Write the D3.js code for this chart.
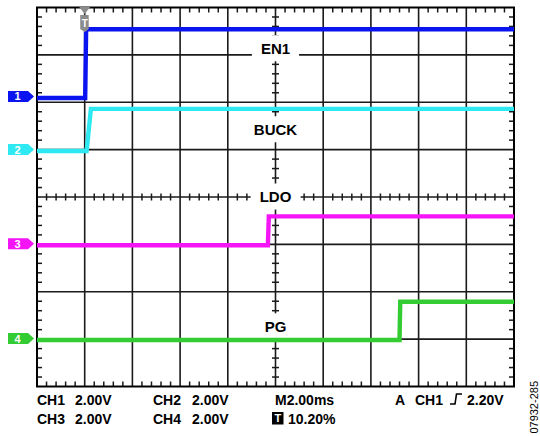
<!DOCTYPE html>
<html><head><meta charset="utf-8">
<script src="https://cdn.jsdelivr.net/npm/d3@7"></script>
<style>html,body{margin:0;padding:0;background:#fff;}svg{display:block;font-family:"Liberation Sans",Arial,sans-serif;}</style>
</head><body>
<script>
// ---- data ----
const channels = ["CH1", "CH2", "CH3", "CH4"];
const channelLabels = ["EN1", "BUCK", "LDO", "PG"];
const channelColors = ["#0a14f0", "#2ee8f2", "#f514f5", "#33cc33"];
const channelOffsetDiv = [1.91, 3.03, 5.02, 7.02]; // ground marker position (div from top)
const labelCenterDiv = [0.86, 2.57, 3.99, 6.73];
const ch1Time = [-2, 0.02, 0.06, 18];
const ch1Volt = [0, 0, 2.9, 2.9];
const ch2Time = [-2, 0.08, 0.26, 18];
const ch2Volt = [0, 0, 1.78, 1.78];
const ch3Time = [-2, 7.68, 7.72, 18];
const ch3Volt = [0, 0, 1.22, 1.22];
const ch4Time = [-2, 13.2, 13.23, 18];
const ch4Volt = [0, 0, 1.62, 1.62];
const timeDomain = [-2, 18];        // ms, 2 ms/div
const voltsPerDiv = 2;
const footRow1 = [["CH1", 37], ["2.00V", 75], ["CH2", 153], ["2.00V", 192], ["M2.00ms", 275], ["A", 395], ["CH1", 415], ["2.20V", 467]];
const footRow2 = [["CH3", 37], ["2.00V", 75], ["CH4", 153], ["2.00V", 192], ["10.20%", 288]];
const figId = "07932-285";

const W = 540, H = 436;
const L = 37, R = 514, T = 7.5, B = 386.5;
const svg = d3.select("body").append("svg").attr("width", W).attr("height", H);

const x = d3.scaleLinear().domain(timeDomain).range([L, R]);
const yDiv = d3.scaleLinear().domain([0, 8]).range([T, B]);
const xDiv = d3.scaleLinear().domain([0, 10]).range([L, R]);

// grid
const g = svg.append("g");
g.selectAll("line.v").data(d3.range(1, 10)).join("line")
  .attr("x1", d => xDiv(d)).attr("x2", d => xDiv(d)).attr("y1", T).attr("y2", B)
  .attr("stroke", "#1a1a1a").attr("stroke-width", 1.6);
g.selectAll("line.h").data(d3.range(1, 8)).join("line")
  .attr("y1", d => yDiv(d)).attr("y2", d => yDiv(d)).attr("x1", L).attr("x2", R)
  .attr("stroke", "#1a1a1a").attr("stroke-width", 1.6);

// minor ticks
const minorX = d3.range(1, 50).filter(i => i % 5 !== 0).map(i => i / 5);
const minorY = d3.range(1, 40).filter(i => i % 5 !== 0).map(i => i / 5);
const tk = svg.append("g").attr("stroke", "#1a1a1a").attr("stroke-width", 1.5);
minorX.forEach(d => {
  tk.append("line").attr("x1", xDiv(d)).attr("x2", xDiv(d)).attr("y1", T).attr("y2", T + 5);
  tk.append("line").attr("x1", xDiv(d)).attr("x2", xDiv(d)).attr("y1", B).attr("y2", B - 5);
  tk.append("line").attr("x1", xDiv(d)).attr("x2", xDiv(d)).attr("y1", yDiv(4) - 3.5).attr("y2", yDiv(4) + 3.5);
});
minorY.forEach(d => {
  tk.append("line").attr("y1", yDiv(d)).attr("y2", yDiv(d)).attr("x1", L).attr("x2", L + 5);
  tk.append("line").attr("y1", yDiv(d)).attr("y2", yDiv(d)).attr("x1", R).attr("x2", R - 5);
  tk.append("line").attr("y1", yDiv(d)).attr("y2", yDiv(d)).attr("x1", xDiv(5) - 3.5).attr("x2", xDiv(5) + 3.5);
});

// border
svg.append("rect").attr("x", L).attr("y", T).attr("width", R - L).attr("height", B - T)
  .attr("fill", "none").attr("stroke", "#000").attr("stroke-width", 2);

// labels with white boxes
channelLabels.forEach((lab, i) => {
  const cy = yDiv(labelCenterDiv[i]);
  const t = svg.append("text").attr("x", xDiv(5)).attr("y", cy).attr("dy", "0.36em")
    .attr("text-anchor", "middle").attr("font-size", 15).attr("font-weight", "bold").text(lab);
  const bb = t.node().getBBox();
  svg.insert("rect", "text").attr("x", bb.x - 9).attr("y", cy - 13).attr("width", bb.width + 18)
    .attr("height", 26).attr("fill", "#fff");
});

// traces
const traces = [[ch1Time, ch1Volt], [ch2Time, ch2Volt], [ch3Time, ch3Volt], [ch4Time, ch4Volt]];
traces.forEach(([ts, vs], i) => {
  const pts = ts.map((t, k) => [t, vs[k]]);
  const line = d3.line().x(d => x(d[0])).y(d => yDiv(channelOffsetDiv[i] - d[1] / voltsPerDiv));
  svg.append("path").datum(pts).attr("d", line).attr("fill", "none")
    .attr("stroke", channelColors[i]).attr("stroke-width", 4.4).attr("stroke-linejoin", "miter");
});

// channel markers
channels.forEach((c, i) => {
  const cy = yDiv(channelOffsetDiv[i]) - 1.5;
  svg.append("path").attr("d", `M8,${cy - 5.5}H28L34,${cy}L28,${cy + 5.5}H8Z`).attr("fill", channelColors[i]);
  svg.append("text").attr("x", 17.5).attr("y", cy).attr("dy", "0.36em").attr("text-anchor", "middle")
    .attr("font-size", 11).attr("font-weight", "bold").attr("fill", "#fff").text(String(i + 1));
});

// trigger marker
const tx = x(0);
svg.append("path").attr("d", `M${tx - 5.5},7H${tx + 5.5}L${tx},14Z`).attr("fill", "#8c8c8c");
svg.append("path").attr("d", `M${tx - 4.5},15H${tx + 4}V29L${tx},32L${tx - 4.5},29Z`).attr("fill", "#8c8c8c");
svg.append("text").attr("x", tx).attr("y", 23).attr("dy", "0.36em").attr("text-anchor", "middle")
  .attr("font-size", 10).attr("font-weight", "bold").attr("fill", "#fff").text("T");

// footer
const foot = svg.append("g").attr("font-size", 14).attr("font-weight", "bold").attr("fill", "#000");
footRow1.forEach(([s, xx]) => foot.append("text").attr("x", xx).attr("y", 405).text(s));
footRow2.forEach(([s, xx]) => foot.append("text").attr("x", xx).attr("y", 424).text(s));
// rising edge symbol
svg.append("path").attr("d", "M450,404H455L456.5,394H462").attr("fill", "none").attr("stroke", "#000").attr("stroke-width", 1.6);
// T box
svg.append("rect").attr("x", 272).attr("y", 412).attr("width", 11.5).attr("height", 12.5).attr("fill", "#000");
svg.append("text").attr("x", 277.8).attr("y", 418.3).attr("dy", "0.36em").attr("text-anchor", "middle")
  .attr("font-size", 11).attr("font-weight", "bold").attr("fill", "#fff").text("T");

// figure id
svg.append("text").attr("transform", "translate(538,381) rotate(-90)").attr("text-anchor", "end")
  .attr("font-size", 11).attr("fill", "#000").text(figId);
</script>
</body></html>
